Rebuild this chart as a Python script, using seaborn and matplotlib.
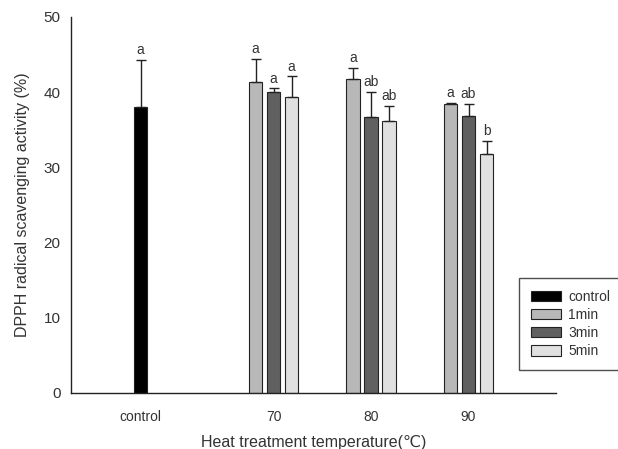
import numpy as np
import pandas as pd
import matplotlib
matplotlib.use("Agg")
import matplotlib.pyplot as plt
import seaborn as sns
from matplotlib.patches import Patch

# ---- data ----
groups = ["control", "70", "80", "90"]
times = ["1min", "3min", "5min"]
control_mean = [38.0]
control_sd = [6.3]
mean_1min = [41.3, 41.8, 38.4]
sd_1min = [3.1, 1.4, 0.2]
mean_3min = [40.0, 36.7, 36.8]
sd_3min = [0.5, 3.3, 1.6]
mean_5min = [39.4, 36.2, 31.8]
sd_5min = [2.7, 2.0, 1.7]
letters_control = ["a"]
letters_1min = ["a", "a", "a"]
letters_3min = ["a", "ab", "ab"]
letters_5min = ["a", "ab", "b"]
legend_labels = ["control", "1min", "3min", "5min"]
colors = {"control": "#000000", "1min": "#b8b8b8", "3min": "#606060", "5min": "#e0e0e0"}

# ---- layout (group centres, in group units) ----
group_centre = {"control": -0.364, "70": 1.0, "80": 2.0, "90": 3.0}
slot = 0.1846
offsets = {"1min": -slot, "3min": 0.0, "5min": slot}

rows = []
rows.append(dict(pos=group_centre["control"], value=control_mean[0], sd=control_sd[0],
                 treatment="control", letter=letters_control[0]))
for t, m, s, l in [("1min", mean_1min, sd_1min, letters_1min),
                   ("3min", mean_3min, sd_3min, letters_3min),
                   ("5min", mean_5min, sd_5min, letters_5min)]:
    for g, mv, sv, lv in zip(groups[1:], m, s, l):
        rows.append(dict(pos=round(group_centre[g] + offsets[t], 4), value=mv, sd=sv,
                         treatment=t, letter=lv))
df = pd.DataFrame(rows)

sns.set_style("white")
plt.rcParams["font.family"] = ["Liberation Sans", "DejaVu Sans"]

fig = plt.figure(figsize=(6.18, 4.49), dpi=100)
ax = fig.add_axes([71/618, 1-393/449, (556-71)/618, (393-17)/449])

sns.barplot(data=df, x="pos", y="value", hue="treatment", hue_order=legend_labels,
            palette=colors, native_scale=True, dodge=False, width=0.76,
            errorbar=None, edgecolor="#222222", linewidth=0.8, legend=False, ax=ax)

ax.errorbar(df["pos"], df["value"], yerr=[np.zeros(len(df)), df["sd"]],
            fmt="none", ecolor="#222222", elinewidth=1.0, capsize=3.6, capthick=1.0)

for _, r in df.iterrows():
    ax.annotate(r["letter"], (r["pos"], r["value"] + r["sd"]), xytext=(0, 2),
                textcoords="offset points", ha="center", va="bottom",
                fontsize=10, color="#333333")

ax.set_xlim(-1.077, 3.897)
ax.set_ylim(0, 50)
ax.set_yticks([0, 10, 20, 30, 40, 50])
ax.set_yticks(np.arange(0, 51, 2), minor=True)
ax.set_xticks([group_centre[g] for g in groups])
ax.set_xticklabels(groups)
ax.tick_params(axis="y", which="major", direction="out", length=4, width=1,
               labelsize=11, labelcolor="#333333", color="#222222")
ax.tick_params(axis="y", which="minor", direction="in", length=2, width=0.5, color="#cccccc")
ax.tick_params(axis="x", which="both", length=0, labelsize=10, labelcolor="#333333", pad=12)

for side in ["top", "right"]:
    ax.spines[side].set_visible(False)
for side in ["left", "bottom"]:
    ax.spines[side].set_color("#222222")
    ax.spines[side].set_linewidth(1.0)

ax.set_ylabel("DPPH radical scavenging activity (%)", fontsize=11.5, color="#333333", labelpad=10)
ax.set_xlabel("Heat treatment temperature(\u2103)", fontsize=11.5, color="#333333", labelpad=8)

handles = [Patch(facecolor=colors[k], edgecolor="#222222", linewidth=0.8) for k in legend_labels]
leg = fig.legend(handles, legend_labels, loc="upper left",
                 bbox_to_anchor=(519/618, 1-278/449), bbox_transform=fig.transFigure,
                 frameon=True, fancybox=False, fontsize=10, handlelength=2.2, handleheight=0.75,
                 labelspacing=0.3, borderpad=0.85, handletextpad=0.5, borderaxespad=0)
leg.get_frame().set_edgecolor("#222222")
leg.get_frame().set_linewidth(1.0)
for t in leg.get_texts():
    t.set_color("#333333")

fig.savefig("out.png", dpi=100)
